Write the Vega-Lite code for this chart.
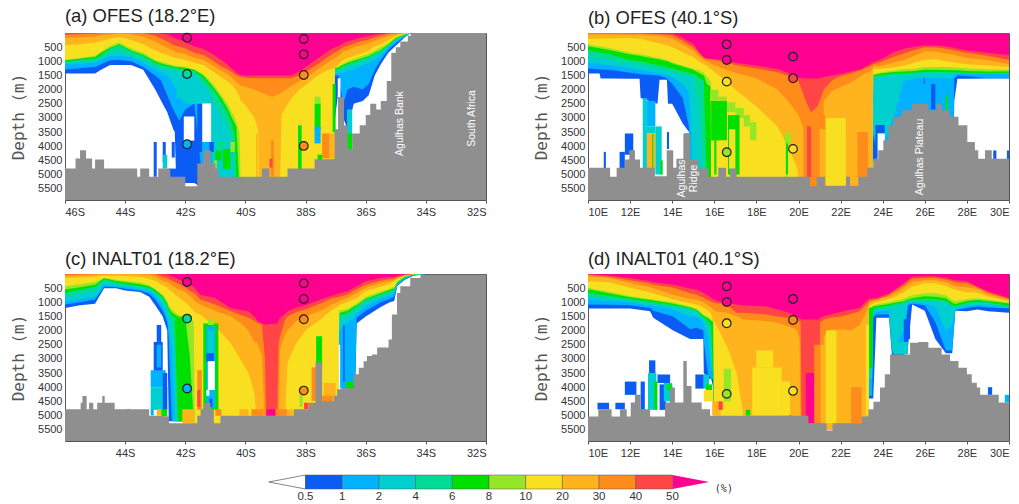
{"$schema":"https://vega.github.io/schema/vega-lite/v6.json","background":"white","padding":{"left":10,"top":6,"right":0,"bottom":0},
"config":{"legend":{"disable":true},"view":{"stroke":"#555","strokeWidth":1},"range":{"category":["#0a5cf5","#00b2ff","#00cfd0","#00dc96","#00e000","#96e628","#f8e020","#ffb31c","#ff8c1a","#ff4545","#ff0090","#ffffff"]},"axis":{"grid":false,"domain":false,"labelFont":"Liberation Sans","labelFontSize":11,"labelColor":"#333","tickColor":"#555","tickSize":3,"labelPadding":3,"labelOverlap":false,"titleFont":"DejaVu Sans Mono","titleFontSize":16,"titleFontWeight":"normal","titleColor":"#555","titlePadding":11},"title":{"font":"Liberation Sans","fontSize":18.4,"fontWeight":"normal","color":"#222","anchor":"start","frame":"group","offset":6}},
"datasets":{
"ca":[
{"x":-46,"A":1430,"B":1290,"C":1100,"D":1050,"E":1000,"F":960,"G":950,"H":430,"I":180,"J":60,"K":0},
{"x":-45,"A":1430,"B":1200,"C":1050,"D":1000,"E":900,"F":850,"G":800,"H":350,"I":120,"J":30,"K":0},
{"x":-44.8,"A":1300,"B":1100,"C":950,"D":880,"E":800,"F":700,"G":650,"H":280,"I":80,"J":0,"K":0},
{"x":-44.5,"A":1130,"B":960,"C":820,"D":700,"E":550,"F":520,"G":450,"H":200,"I":50,"J":0,"K":0},
{"x":-44.2,"A":1130,"B":950,"C":800,"D":650,"E":430,"F":400,"G":330,"H":130,"I":20,"J":0,"K":0},
{"x":-43.8,"A":1130,"B":1000,"C":850,"D":800,"E":650,"F":620,"G":550,"H":250,"I":40,"J":0,"K":0},
{"x":-43.4,"A":1300,"B":1200,"C":1050,"D":950,"E":800,"F":770,"G":700,"H":400,"I":130,"J":0,"K":0},
{"x":-43,"A":2000,"B":1500,"C":1300,"D":1200,"E":1050,"F":1000,"G":950,"H":620,"I":300,"J":100,"K":0},
{"x":-42.8,"A":2400,"B":1700,"C":1400,"D":1250,"E":1120,"F":1080,"G":1020,"H":700,"I":420,"J":200,"K":20},
{"x":-42.6,"A":2800,"B":2200,"C":1500,"D":1280,"E":1180,"F":1130,"G":1080,"H":770,"I":520,"J":300,"K":50},
{"x":-42.4,"A":3400,"B":2700,"C":1800,"D":1300,"E":1220,"F":1180,"G":1130,"H":860,"I":620,"J":420,"K":140},
{"x":-42.35,"A":3500,"B":2800,"C":1900,"D":1320,"E":1240,"F":1190,"G":1150,"H":880,"I":650,"J":440,"K":180},
{"x":-42.3,"A":5300,"B":2900,"C":2000,"D":1330,"E":1250,"F":1200,"G":1160,"H":890,"I":680,"J":460,"K":210},
{"x":-42.2,"A":5300,"B":3100,"C":2200,"D":1340,"E":1260,"F":1210,"G":1170,"H":900,"I":700,"J":480,"K":230},
{"x":-42,"A":5300,"B":2700,"C":2500,"D":1350,"E":1280,"F":1230,"G":1200,"H":950,"I":750,"J":550,"K":320},
{"x":-41.7,"A":5300,"B":2500,"C":2500,"D":1450,"E":1350,"F":1300,"G":1280,"H":1050,"I":870,"J":700,"K":480},
{"x":-41.4,"A":5500,"B":5500,"C":2600,"D":1800,"E":1600,"F":1500,"G":1450,"H":1130,"I":950,"J":780,"K":560},
{"x":-41.2,"A":5500,"B":5500,"C":3000,"D":2100,"E":1850,"F":1750,"G":1650,"H":1270,"I":1070,"J":900,"K":680},
{"x":-41.05,"A":5500,"B":5500,"C":5500,"D":2400,"E":2030,"F":1930,"G":1830,"H":1380,"I":1170,"J":1000,"K":770},
{"x":-40.8,"A":5500,"B":5500,"C":5500,"D":2900,"E":2450,"F":2300,"G":2200,"H":1570,"I":1330,"J":1180,"K":950},
{"x":-40.6,"A":5500,"B":5500,"C":5500,"D":3300,"E":2800,"F":2650,"G":2500,"H":1700,"I":1450,"J":1280,"K":1100},
{"x":-40.45,"A":5500,"B":5500,"C":5500,"D":3800,"E":3200,"F":3000,"G":2800,"H":1850,"I":1580,"J":1380,"K":1250},
{"x":-40.35,"A":5500,"B":5500,"C":5500,"D":5500,"E":3700,"F":3200,"G":3000,"H":1980,"I":1680,"J":1460,"K":1350},
{"x":-40.3,"A":5500,"B":5500,"C":5500,"D":5500,"E":5500,"F":3300,"G":3150,"H":2050,"I":1730,"J":1500,"K":1400},
{"x":-40.2,"A":5500,"B":5500,"C":5500,"D":5500,"E":5500,"F":5500,"G":3500,"H":2250,"I":1820,"J":1530,"K":1470},
{"x":-40.15,"A":5500,"B":5500,"C":5500,"D":5500,"E":5500,"F":5500,"G":5500,"H":2400,"I":1860,"J":1550,"K":1480},
{"x":-40,"A":5500,"B":5500,"C":5500,"D":5500,"E":5500,"F":5500,"G":5500,"H":2550,"I":1900,"J":1580,"K":1500},
{"x":-39.7,"A":5500,"B":5500,"C":5500,"D":5500,"E":5500,"F":5500,"G":5500,"H":3000,"I":2000,"J":1600,"K":1500},
{"x":-39.58,"A":5500,"B":5500,"C":5500,"D":5500,"E":5500,"F":5500,"G":5500,"H":3400,"I":2060,"J":1600,"K":1500},
{"x":-39.55,"A":5500,"B":5500,"C":5500,"D":5500,"E":5500,"F":5500,"G":5500,"H":5500,"I":2080,"J":1600,"K":1500},
{"x":-39.1,"A":5500,"B":5500,"C":5500,"D":5500,"E":5500,"F":5500,"G":5500,"H":5500,"I":2250,"J":1600,"K":1500},
{"x":-38.85,"A":5500,"B":5500,"C":5500,"D":5500,"E":5500,"F":5500,"G":5500,"H":5500,"I":2150,"J":1600,"K":1500},
{"x":-38.8,"A":5500,"B":5500,"C":5500,"D":5500,"E":5500,"F":5500,"G":5500,"H":2900,"I":2100,"J":1600,"K":1500},
{"x":-38.5,"A":5500,"B":5500,"C":5500,"D":5500,"E":5500,"F":5500,"G":5500,"H":2350,"I":1900,"J":1600,"K":1500},
{"x":-38.2,"A":5500,"B":5500,"C":5500,"D":5500,"E":5500,"F":5500,"G":5500,"H":2000,"I":1700,"J":1500,"K":1350},
{"x":-38,"A":5500,"B":5500,"C":5500,"D":5500,"E":5500,"F":5500,"G":5500,"H":1850,"I":1580,"J":1380,"K":1200},
{"x":-37.6,"A":5500,"B":5500,"C":5500,"D":5500,"E":5500,"F":5500,"G":5500,"H":1500,"I":1300,"J":1100,"K":900},
{"x":-37.2,"A":5500,"B":5500,"C":5500,"D":5500,"E":5500,"F":5500,"G":5500,"H":1280,"I":1000,"J":800,"K":600},
{"x":-37.05,"A":5500,"B":5500,"C":5500,"D":5500,"E":5500,"F":5500,"G":5500,"H":1250,"I":900,"J":700,"K":520},
{"x":-37.02,"A":3000,"B":1500,"C":1450,"D":1350,"E":1300,"F":1250,"G":1200,"H":1200,"I":880,"J":680,"K":500},
{"x":-36.9,"A":2000,"B":1500,"C":1430,"D":1320,"E":1270,"F":1220,"G":1170,"H":1100,"I":800,"J":620,"K":450},
{"x":-36.75,"A":3000,"B":2500,"C":1400,"D":1250,"E":1180,"F":1120,"G":1080,"H":950,"I":650,"J":500,"K":350},
{"x":-36.6,"A":3400,"B":2000,"C":1350,"D":1200,"E":1100,"F":1050,"G":1000,"H":880,"I":600,"J":450,"K":300},
{"x":-36.4,"A":2500,"B":1900,"C":1280,"D":1120,"E":1030,"F":980,"G":920,"H":800,"I":500,"J":370,"K":230},
{"x":-36.1,"A":2400,"B":2000,"C":1150,"D":1000,"E":920,"F":880,"G":800,"H":700,"I":420,"J":280,"K":150},
{"x":-35.9,"A":2200,"B":1800,"C":1050,"D":920,"E":850,"F":810,"G":730,"H":620,"I":360,"J":230,"K":100},
{"x":-35.7,"A":1500,"B":1300,"C":950,"D":800,"E":730,"F":700,"G":620,"H":480,"I":280,"J":150,"K":60},
{"x":-35.5,"A":1100,"B":950,"C":800,"D":700,"E":630,"F":600,"G":500,"H":400,"I":200,"J":100,"K":30},
{"x":-35.25,"A":700,"B":600,"C":520,"D":480,"E":440,"F":410,"G":350,"H":260,"I":100,"J":30,"K":0},
{"x":-35,"A":450,"B":350,"C":300,"D":250,"E":200,"F":180,"G":150,"H":100,"I":50,"J":0,"K":0},
{"x":-34.7,"A":150,"B":120,"C":100,"D":80,"E":60,"F":50,"G":30,"H":0,"I":0,"J":0,"K":0},
{"x":-34.5,"A":0,"B":0,"C":0,"D":0,"E":0,"F":0,"G":0,"H":0,"I":0,"J":0,"K":0}],
"cb":[
{"x":10,"A":1430,"B":1250,"C":1050,"D":850,"E":600,"F":470,"G":400,"H":200,"I":60,"J":0,"K":0},
{"x":10.55,"A":1430,"B":1280,"C":1090,"D":900,"E":680,"F":540,"G":470,"H":195,"I":55,"J":5,"K":0},
{"x":10.6,"A":1610,"B":1290,"C":1100,"D":910,"E":690,"F":550,"G":480,"H":195,"I":55,"J":5,"K":0},
{"x":11,"A":1610,"B":1300,"C":1130,"D":950,"E":750,"F":600,"G":530,"H":190,"I":50,"J":10,"K":0},
{"x":12,"A":1620,"B":1400,"C":1250,"D":1100,"E":950,"F":760,"G":700,"H":180,"I":60,"J":20,"K":0},
{"x":12.45,"A":1620,"B":1450,"C":1300,"D":1150,"E":1000,"F":800,"G":740,"H":200,"I":60,"J":20,"K":0},
{"x":12.5,"A":2300,"B":1460,"C":1310,"D":1160,"E":1010,"F":810,"G":750,"H":205,"I":62,"J":20,"K":0},
{"x":13.3,"A":2500,"B":1500,"C":1420,"D":1280,"E":1130,"F":930,"G":870,"H":350,"I":100,"J":40,"K":10},
{"x":13.4,"A":1650,"B":1510,"C":1430,"D":1290,"E":1140,"F":940,"G":880,"H":360,"I":110,"J":45,"K":15},
{"x":13.75,"A":1650,"B":1600,"C":1480,"D":1360,"E":1200,"F":1000,"G":950,"H":430,"I":150,"J":65,"K":20},
{"x":13.8,"A":2500,"B":1650,"C":1490,"D":1370,"E":1210,"F":1010,"G":960,"H":440,"I":160,"J":70,"K":20},
{"x":14,"A":2500,"B":1790,"C":1550,"D":1380,"E":1260,"F":1080,"G":1030,"H":500,"I":200,"J":80,"K":20},
{"x":14.5,"A":3200,"B":2300,"C":1800,"D":1480,"E":1350,"F":1180,"G":1150,"H":680,"I":400,"J":270,"K":150},
{"x":14.8,"A":3500,"B":3300,"C":2100,"D":1550,"E":1410,"F":1250,"G":1220,"H":790,"I":550,"J":420,"K":320},
{"x":14.85,"A":5500,"B":5500,"C":2800,"D":1560,"E":1420,"F":1260,"G":1230,"H":800,"I":560,"J":430,"K":330},
{"x":15,"A":5500,"B":5500,"C":5500,"D":1600,"E":1450,"F":1300,"G":1260,"H":850,"I":620,"J":500,"K":380},
{"x":15.25,"A":5500,"B":5500,"C":5500,"D":2500,"E":1560,"F":1400,"G":1320,"H":1000,"I":800,"J":700,"K":650},
{"x":15.5,"A":5500,"B":5500,"C":5500,"D":5500,"E":1700,"F":1500,"G":1400,"H":1100,"I":950,"J":880,"K":850},
{"x":15.65,"A":5500,"B":5500,"C":5500,"D":5500,"E":5500,"F":1800,"G":1550,"H":1170,"I":1000,"J":930,"K":900},
{"x":15.83,"A":5500,"B":5500,"C":5500,"D":5500,"E":5500,"F":1900,"G":1700,"H":1270,"I":1080,"J":940,"K":910},
{"x":15.85,"A":5500,"B":5500,"C":5500,"D":5500,"E":5500,"F":5500,"G":5500,"H":1280,"I":1090,"J":940,"K":910},
{"x":16.5,"A":5500,"B":5500,"C":5500,"D":5500,"E":5500,"F":5500,"G":5500,"H":1650,"I":1280,"J":1020,"K":960},
{"x":17,"A":5500,"B":5500,"C":5500,"D":5500,"E":5500,"F":5500,"G":5500,"H":2000,"I":1400,"J":1130,"K":1050},
{"x":18,"A":5500,"B":5500,"C":5500,"D":5500,"E":5500,"F":5500,"G":5500,"H":2600,"I":1600,"J":1250,"K":1150},
{"x":19,"A":5500,"B":5500,"C":5500,"D":5500,"E":5500,"F":5500,"G":5500,"H":3300,"I":2000,"J":1390,"K":1270},
{"x":19.5,"A":5500,"B":5500,"C":5500,"D":5500,"E":5500,"F":5500,"G":5500,"H":4000,"I":2400,"J":1500,"K":1400},
{"x":19.95,"A":5500,"B":5500,"C":5500,"D":5500,"E":5500,"F":5500,"G":5500,"H":4800,"I":2850,"J":1680,"K":1570},
{"x":20,"A":5500,"B":5500,"C":5500,"D":5500,"E":5500,"F":5500,"G":5500,"H":5500,"I":2900,"J":1700,"K":1580},
{"x":20.3,"A":5500,"B":5500,"C":5500,"D":5500,"E":5500,"F":5500,"G":5500,"H":5500,"I":3500,"J":2300,"K":1600},
{"x":20.4,"A":5500,"B":5500,"C":5500,"D":5500,"E":5500,"F":5500,"G":5500,"H":5500,"I":5500,"J":2500,"K":1610},
{"x":20.6,"A":5500,"B":5500,"C":5500,"D":5500,"E":5500,"F":5500,"G":5500,"H":5500,"I":5500,"J":2800,"K":1610},
{"x":20.9,"A":5500,"B":5500,"C":5500,"D":5500,"E":5500,"F":5500,"G":5500,"H":5500,"I":5500,"J":2600,"K":1610},
{"x":21.15,"A":5500,"B":5500,"C":5500,"D":5500,"E":5500,"F":5500,"G":5500,"H":5500,"I":5500,"J":2100,"K":1570},
{"x":21.2,"A":5500,"B":5500,"C":5500,"D":5500,"E":5500,"F":5500,"G":5500,"H":5500,"I":2400,"J":2000,"K":1550},
{"x":21.6,"A":5500,"B":5500,"C":5500,"D":5500,"E":5500,"F":5500,"G":5500,"H":5500,"I":2050,"J":1670,"K":1500},
{"x":22,"A":5500,"B":5500,"C":5500,"D":5500,"E":5500,"F":5500,"G":5500,"H":5500,"I":1900,"J":1520,"K":1450},
{"x":22.5,"A":5500,"B":5500,"C":5500,"D":5500,"E":5500,"F":5500,"G":5500,"H":5500,"I":1750,"J":1420,"K":1360},
{"x":23,"A":5500,"B":5500,"C":5500,"D":5500,"E":5500,"F":5500,"G":5500,"H":5500,"I":1500,"J":1300,"K":1270},
{"x":23.5,"A":5500,"B":5500,"C":5500,"D":5500,"E":5500,"F":5500,"G":5500,"H":5500,"I":1300,"J":1130,"K":1050},
{"x":23.55,"A":4500,"B":3600,"C":3500,"D":1600,"E":1530,"F":1480,"G":1450,"H":1270,"I":1180,"J":1100,"K":1030},
{"x":24,"A":5000,"B":5000,"C":4000,"D":1560,"E":1480,"F":1420,"G":1380,"H":1260,"I":1150,"J":1000,"K":900},
{"x":24.5,"A":5000,"B":5000,"C":3000,"D":1500,"E":1440,"F":1380,"G":1330,"H":1220,"I":1050,"J":850,"K":680},
{"x":25,"A":5000,"B":5000,"C":1700,"D":1480,"E":1420,"F":1360,"G":1280,"H":1150,"I":950,"J":720,"K":560},
{"x":25.5,"A":5000,"B":5000,"C":1600,"D":1450,"E":1400,"F":1340,"G":1260,"H":1050,"I":800,"J":600,"K":490},
{"x":26,"A":5000,"B":5000,"C":1580,"D":1440,"E":1380,"F":1300,"G":1200,"H":950,"I":650,"J":500,"K":430},
{"x":26.5,"A":5000,"B":5000,"C":1600,"D":1440,"E":1380,"F":1300,"G":1200,"H":930,"I":650,"J":500,"K":440},
{"x":27,"A":5000,"B":5000,"C":1600,"D":1450,"E":1380,"F":1310,"G":1200,"H":1000,"I":720,"J":560,"K":470},
{"x":27.35,"A":5000,"B":5000,"C":1600,"D":1450,"E":1390,"F":1320,"G":1210,"H":1030,"I":760,"J":600,"K":510},
{"x":27.4,"A":2400,"B":1620,"C":1500,"D":1450,"E":1390,"F":1320,"G":1220,"H":1040,"I":770,"J":610,"K":520},
{"x":27.55,"A":1620,"B":1500,"C":1450,"D":1420,"E":1390,"F":1320,"G":1220,"H":1060,"I":800,"J":640,"K":550},
{"x":28,"A":1620,"B":1520,"C":1450,"D":1430,"E":1400,"F":1340,"G":1250,"H":1100,"I":880,"J":700,"K":620},
{"x":29,"A":1610,"B":1600,"C":1450,"D":1440,"E":1420,"F":1360,"G":1280,"H":1150,"I":960,"J":800,"K":700},
{"x":30,"A":1610,"B":1600,"C":1440,"D":1420,"E":1400,"F":1350,"G":1290,"H":1200,"I":1100,"J":950,"K":790}],
"cc":[
{"x":-46,"A":1200,"B":1080,"C":960,"D":790,"E":670,"F":550,"G":430,"H":140,"I":60,"J":20,"K":0},
{"x":-45.5,"A":1100,"B":1000,"C":880,"D":700,"E":560,"F":470,"G":360,"H":120,"I":40,"J":10,"K":0},
{"x":-45,"A":1050,"B":900,"C":800,"D":600,"E":450,"F":380,"G":280,"H":90,"I":30,"J":0,"K":0},
{"x":-44.7,"A":500,"B":450,"C":380,"D":260,"E":190,"F":150,"G":130,"H":50,"I":10,"J":0,"K":0},
{"x":-44.3,"A":500,"B":470,"C":430,"D":360,"E":300,"F":250,"G":200,"H":60,"I":10,"J":0,"K":0},
{"x":-44,"A":580,"B":520,"C":470,"D":410,"E":350,"F":290,"G":240,"H":70,"I":10,"J":0,"K":0},
{"x":-43.5,"A":640,"B":590,"C":540,"D":480,"E":420,"F":360,"G":300,"H":100,"I":10,"J":0,"K":0},
{"x":-43.2,"A":800,"B":700,"C":620,"D":560,"E":490,"F":430,"G":400,"H":170,"I":30,"J":0,"K":0},
{"x":-43,"A":1100,"B":900,"C":750,"D":700,"E":620,"F":560,"G":530,"H":250,"I":80,"J":0,"K":0},
{"x":-42.75,"A":1500,"B":1300,"C":1150,"D":1000,"E":830,"F":780,"G":730,"H":400,"I":250,"J":100,"K":0},
{"x":-42.6,"A":2000,"B":1700,"C":1550,"D":1300,"E":1100,"F":1030,"G":950,"H":470,"I":280,"J":130,"K":20},
{"x":-42.55,"A":5200,"B":2300,"C":1900,"D":1500,"E":1300,"F":1200,"G":1100,"H":550,"I":320,"J":180,"K":40},
{"x":-42.45,"A":5200,"B":5200,"C":2600,"D":1700,"E":1450,"F":1350,"G":1250,"H":620,"I":400,"J":240,"K":80},
{"x":-42.35,"A":5200,"B":5200,"C":5200,"D":2400,"E":1550,"F":1430,"G":1350,"H":720,"I":460,"J":280,"K":120},
{"x":-42.25,"A":5200,"B":5200,"C":5200,"D":5200,"E":5200,"F":1500,"G":1430,"H":800,"I":540,"J":340,"K":180},
{"x":-42,"A":5200,"B":5200,"C":5200,"D":5200,"E":5200,"F":1550,"G":1500,"H":1000,"I":640,"J":480,"K":300},
{"x":-41.85,"A":5200,"B":5200,"C":5200,"D":5200,"E":5200,"F":2900,"G":1620,"H":1150,"I":780,"J":590,"K":380},
{"x":-41.72,"A":5200,"B":5200,"C":5200,"D":5200,"E":5200,"F":5200,"G":1650,"H":1300,"I":900,"J":670,"K":460},
{"x":-41.68,"A":5500,"B":5500,"C":5500,"D":5500,"E":5500,"F":5500,"G":5500,"H":1350,"I":950,"J":700,"K":500},
{"x":-41.5,"A":5500,"B":5500,"C":5500,"D":5500,"E":5500,"F":5500,"G":5500,"H":1430,"I":1080,"J":900,"K":730},
{"x":-41,"A":5500,"B":5500,"C":5500,"D":5500,"E":5500,"F":5500,"G":5500,"H":1860,"I":1310,"J":1080,"K":850},
{"x":-40.5,"A":5500,"B":5500,"C":5500,"D":5500,"E":5500,"F":5500,"G":5500,"H":2430,"I":1490,"J":1310,"K":1200},
{"x":-40.2,"A":5500,"B":5500,"C":5500,"D":5500,"E":5500,"F":5500,"G":5500,"H":2960,"I":1700,"J":1430,"K":1260},
{"x":-39.9,"A":5500,"B":5500,"C":5500,"D":5500,"E":5500,"F":5500,"G":5500,"H":3500,"I":2000,"J":1550,"K":1320},
{"x":-39.7,"A":5500,"B":5500,"C":5500,"D":5500,"E":5500,"F":5500,"G":5500,"H":4200,"I":2400,"J":1650,"K":1500},
{"x":-39.6,"A":5500,"B":5500,"C":5500,"D":5500,"E":5500,"F":5500,"G":5500,"H":5500,"I":2430,"J":1730,"K":1650},
{"x":-39.45,"A":5500,"B":5500,"C":5500,"D":5500,"E":5500,"F":5500,"G":5500,"H":5500,"I":2900,"J":1785,"K":1750},
{"x":-39.35,"A":5500,"B":5500,"C":5500,"D":5500,"E":5500,"F":5500,"G":5500,"H":5500,"I":5500,"J":3000,"K":1785},
{"x":-39.3,"A":5500,"B":5500,"C":5500,"D":5500,"E":5500,"F":5500,"G":5500,"H":5500,"I":5500,"J":5500,"K":1785},
{"x":-38.95,"A":5500,"B":5500,"C":5500,"D":5500,"E":5500,"F":5500,"G":5500,"H":5500,"I":5500,"J":5500,"K":1750},
{"x":-38.9,"A":5500,"B":5500,"C":5500,"D":5500,"E":5500,"F":5500,"G":5500,"H":5500,"I":5500,"J":2500,"K":1650},
{"x":-38.85,"A":5500,"B":5500,"C":5500,"D":5500,"E":5500,"F":5500,"G":5500,"H":5500,"I":2660,"J":2200,"K":1550},
{"x":-38.7,"A":5500,"B":5500,"C":5500,"D":5500,"E":5500,"F":5500,"G":5500,"H":5500,"I":2200,"J":1670,"K":1430},
{"x":-38.6,"A":5500,"B":5500,"C":5500,"D":5500,"E":5500,"F":5500,"G":5500,"H":3130,"I":2000,"J":1500,"K":1320},
{"x":-38.3,"A":5500,"B":5500,"C":5500,"D":5500,"E":5500,"F":5500,"G":5500,"H":2430,"I":1650,"J":1340,"K":1180},
{"x":-38,"A":5500,"B":5500,"C":5500,"D":5500,"E":5500,"F":5500,"G":5500,"H":2000,"I":1500,"J":1250,"K":1100},
{"x":-37.5,"A":5500,"B":5500,"C":5500,"D":5500,"E":5500,"F":5500,"G":5500,"H":1600,"I":1300,"J":1040,"K":900},
{"x":-37.1,"A":5500,"B":5500,"C":5500,"D":5500,"E":5500,"F":5500,"G":5500,"H":1250,"I":1050,"J":850,"K":760},
{"x":-36.92,"A":5500,"B":5500,"C":5500,"D":5500,"E":5500,"F":5500,"G":5500,"H":1150,"I":1000,"J":820,"K":700},
{"x":-36.88,"A":4000,"B":4000,"C":2000,"D":1600,"E":1450,"F":1380,"G":1300,"H":1100,"I":950,"J":800,"K":680},
{"x":-36.6,"A":4100,"B":4100,"C":1700,"D":1500,"E":1380,"F":1300,"G":1230,"H":980,"I":850,"J":720,"K":610},
{"x":-36.35,"A":4100,"B":4000,"C":1500,"D":1300,"E":1180,"F":1120,"G":1060,"H":870,"I":700,"J":560,"K":450},
{"x":-36.3,"A":1750,"B":1550,"C":1400,"D":1260,"E":1150,"F":1100,"G":1040,"H":850,"I":680,"J":540,"K":430},
{"x":-36,"A":1500,"B":1300,"C":1130,"D":1000,"E":900,"F":870,"G":800,"H":610,"I":490,"J":380,"K":260},
{"x":-35.5,"A":1170,"B":1000,"C":880,"D":800,"E":720,"F":680,"G":620,"H":440,"I":320,"J":240,"K":140},
{"x":-35.2,"A":1000,"B":880,"C":760,"D":680,"E":610,"F":560,"G":520,"H":350,"I":260,"J":180,"K":110},
{"x":-35.05,"A":950,"B":800,"C":680,"D":600,"E":540,"F":500,"G":450,"H":260,"I":200,"J":140,"K":90},
{"x":-34.95,"A":420,"B":400,"C":370,"D":340,"E":300,"F":280,"G":260,"H":180,"I":150,"J":100,"K":70},
{"x":-34.7,"A":200,"B":180,"C":160,"D":140,"E":120,"F":100,"G":80,"H":60,"I":40,"J":25,"K":15},
{"x":-34.4,"A":60,"B":50,"C":40,"D":30,"E":20,"F":10,"G":5,"H":0,"I":0,"J":0,"K":0},
{"x":-34,"A":0,"B":0,"C":0,"D":0,"E":0,"F":0,"G":0,"H":0,"I":0,"J":0,"K":0}],
"cd":[
{"x":10,"A":1220,"B":1080,"C":900,"D":790,"E":670,"F":540,"G":490,"H":260,"I":80,"J":25,"K":0},
{"x":11,"A":1220,"B":1090,"C":950,"D":870,"E":770,"F":680,"G":630,"H":290,"I":130,"J":100,"K":50},
{"x":12,"A":1220,"B":1100,"C":1000,"D":950,"E":880,"F":820,"G":780,"H":490,"I":320,"J":220,"K":140},
{"x":12.95,"A":1320,"B":1200,"C":1100,"D":1040,"E":980,"F":920,"G":880,"H":650,"I":470,"J":340,"K":260},
{"x":13.1,"A":1550,"B":1300,"C":1120,"D":1060,"E":1000,"F":940,"G":900,"H":680,"I":500,"J":370,"K":290},
{"x":14.05,"A":2000,"B":1500,"C":1260,"D":1150,"E":1100,"F":1050,"G":1000,"H":900,"I":730,"J":490,"K":375},
{"x":14.85,"A":2300,"B":1950,"C":1500,"D":1280,"E":1210,"F":1180,"G":1150,"H":1030,"I":880,"J":680,"K":510},
{"x":15.16,"A":2300,"B":1900,"C":1500,"D":1350,"E":1300,"F":1260,"G":1230,"H":1080,"I":900,"J":730,"K":550},
{"x":15.48,"A":2300,"B":2000,"C":1700,"D":1600,"E":1520,"F":1470,"G":1430,"H":1180,"I":1000,"J":840,"K":670},
{"x":15.5,"A":3500,"B":2400,"C":1800,"D":1650,"E":1550,"F":1480,"G":1430,"H":1190,"I":1000,"J":850,"K":680},
{"x":15.7,"A":3700,"B":3500,"C":2200,"D":1850,"E":1650,"F":1560,"G":1500,"H":1280,"I":1100,"J":930,"K":750},
{"x":15.85,"A":3700,"B":3700,"C":3300,"D":2400,"E":1800,"F":1650,"G":1600,"H":1400,"I":1180,"J":980,"K":840},
{"x":15.95,"A":4000,"B":3700,"C":3500,"D":3500,"E":4000,"F":1700,"G":1650,"H":1650,"I":1240,"J":1010,"K":890},
{"x":16,"A":5500,"B":5500,"C":5500,"D":5500,"E":5500,"F":5500,"G":5500,"H":1690,"I":1290,"J":1020,"K":900},
{"x":16.2,"A":5500,"B":5500,"C":5500,"D":5500,"E":5500,"F":5500,"G":5500,"H":1960,"I":1330,"J":1040,"K":970},
{"x":16.6,"A":5500,"B":5500,"C":5500,"D":5500,"E":5500,"F":5500,"G":5500,"H":2550,"I":1370,"J":1080,"K":1020},
{"x":17.06,"A":5500,"B":5500,"C":5500,"D":5500,"E":5500,"F":5500,"G":5500,"H":3490,"I":1490,"J":1370,"K":1080},
{"x":17.35,"A":5500,"B":5500,"C":5500,"D":5500,"E":5500,"F":5500,"G":5500,"H":4800,"I":1600,"J":1370,"K":1100},
{"x":17.4,"A":5500,"B":5500,"C":5500,"D":5500,"E":5500,"F":5500,"G":5500,"H":5500,"I":1610,"J":1370,"K":1100},
{"x":18.5,"A":5500,"B":5500,"C":5500,"D":5500,"E":5500,"F":5500,"G":5500,"H":5500,"I":1660,"J":1430,"K":1150},
{"x":19,"A":5500,"B":5500,"C":5500,"D":5500,"E":5500,"F":5500,"G":5500,"H":5500,"I":1725,"J":1500,"K":1255},
{"x":19.5,"A":5500,"B":5500,"C":5500,"D":5500,"E":5500,"F":5500,"G":5500,"H":5500,"I":1850,"J":1550,"K":1350},
{"x":19.9,"A":5500,"B":5500,"C":5500,"D":5500,"E":5500,"F":5500,"G":5500,"H":5500,"I":1960,"J":1610,"K":1500},
{"x":20.05,"A":5500,"B":5500,"C":5500,"D":5500,"E":5500,"F":5500,"G":5500,"H":5500,"I":2300,"J":1680,"K":1570},
{"x":20.1,"A":5500,"B":5500,"C":5500,"D":5500,"E":5500,"F":5500,"G":5500,"H":5500,"I":5500,"J":1700,"K":1580},
{"x":20.15,"A":5500,"B":5500,"C":5500,"D":5500,"E":5500,"F":5500,"G":5500,"H":5500,"I":5500,"J":5500,"K":1610},
{"x":21,"A":5500,"B":5500,"C":5500,"D":5500,"E":5500,"F":5500,"G":5500,"H":5500,"I":5500,"J":5500,"K":1610},
{"x":21.02,"A":5500,"B":5500,"C":5500,"D":5500,"E":5500,"F":5500,"G":5500,"H":5500,"I":5500,"J":1700,"K":1550},
{"x":21.15,"A":5500,"B":5500,"C":5500,"D":5500,"E":5500,"F":5500,"G":5500,"H":5500,"I":5500,"J":1650,"K":1500},
{"x":21.2,"A":5500,"B":5500,"C":5500,"D":5500,"E":5500,"F":5500,"G":5500,"H":5500,"I":2200,"J":1620,"K":1480},
{"x":21.5,"A":5500,"B":5500,"C":5500,"D":5500,"E":5500,"F":5500,"G":5500,"H":5500,"I":1960,"J":1550,"K":1430},
{"x":22.13,"A":5500,"B":5500,"C":5500,"D":5500,"E":5500,"F":5500,"G":5500,"H":5500,"I":1960,"J":1490,"K":1315},
{"x":22.5,"A":5500,"B":5500,"C":5500,"D":5500,"E":5500,"F":5500,"G":5500,"H":5500,"I":2000,"J":1400,"K":1250},
{"x":22.9,"A":5500,"B":5500,"C":5500,"D":5500,"E":5500,"F":5500,"G":5500,"H":5500,"I":1800,"J":1315,"K":1200},
{"x":23.3,"A":5500,"B":5500,"C":5500,"D":5500,"E":5500,"F":5500,"G":5500,"H":5500,"I":1200,"J":1020,"K":900},
{"x":23.35,"A":4400,"B":4300,"C":3700,"D":3500,"E":3300,"F":1200,"G":1180,"H":1100,"I":1000,"J":950,"K":870},
{"x":23.5,"A":4400,"B":4300,"C":3700,"D":3500,"E":3300,"F":1180,"G":1150,"H":1060,"I":980,"J":920,"K":860},
{"x":23.55,"A":4400,"B":1500,"C":1400,"D":1300,"E":1250,"F":1150,"G":1100,"H":1030,"I":950,"J":910,"K":850},
{"x":23.7,"A":1550,"B":1430,"C":1340,"D":1250,"E":1180,"F":1130,"G":1080,"H":1000,"I":920,"J":900,"K":845},
{"x":24.3,"A":1550,"B":1430,"C":1300,"D":1200,"E":1120,"F":1060,"G":1000,"H":880,"I":780,"J":740,"K":690},
{"x":24.45,"A":3000,"B":2800,"C":2700,"D":1170,"E":1090,"F":1030,"G":970,"H":850,"I":750,"J":660,"K":610},
{"x":25,"A":2900,"B":2400,"C":2000,"D":1070,"E":1000,"F":960,"G":880,"H":650,"I":500,"J":400,"K":330},
{"x":25.2,"A":2600,"B":1100,"C":1040,"D":1000,"E":940,"F":900,"G":800,"H":550,"I":380,"J":280,"K":200},
{"x":25.4,"A":1080,"B":1050,"C":1000,"D":950,"E":900,"F":860,"G":750,"H":450,"I":300,"J":170,"K":100},
{"x":26,"A":1300,"B":1100,"C":1030,"D":950,"E":870,"F":790,"G":680,"H":330,"I":220,"J":130,"K":80},
{"x":26.5,"A":2300,"B":1700,"C":1150,"D":950,"E":880,"F":800,"G":680,"H":330,"I":220,"J":130,"K":80},
{"x":27,"A":2800,"B":2700,"C":2000,"D":1000,"E":950,"F":860,"G":760,"H":420,"I":290,"J":190,"K":120},
{"x":27.3,"A":2800,"B":2700,"C":1800,"D":1150,"E":1100,"F":1020,"G":920,"H":520,"I":390,"J":260,"K":190},
{"x":27.45,"A":1300,"B":1280,"C":1240,"D":1200,"E":1130,"F":1060,"G":960,"H":560,"I":430,"J":300,"K":220},
{"x":28,"A":1320,"B":1200,"C":1150,"D":1080,"E":1020,"F":950,"G":880,"H":650,"I":480,"J":320,"K":260},
{"x":28.5,"A":1250,"B":1150,"C":1100,"D":1040,"E":980,"F":920,"G":860,"H":650,"I":530,"J":470,"K":450},
{"x":29,"A":1320,"B":1180,"C":1120,"D":1060,"E":1000,"F":950,"G":900,"H":800,"I":720,"J":650,"K":610},
{"x":30,"A":1370,"B":1220,"C":1200,"D":1160,"E":1120,"F":1040,"G":1010,"H":960,"I":920,"J":880,"K":845}],
"land":[
{"p":"a","x":-46,"d":4790},{"p":"a","x":-45.65,"d":4430},{"p":"a","x":-45.5,"d":4140},{"p":"a","x":-45.3,"d":4430},{"p":"a","x":-45.1,"d":4790},{"p":"a","x":-45,"d":4470},{"p":"a","x":-44.7,"d":4790},{"p":"a","x":-43.6,"d":5080},{"p":"a","x":-43.5,"d":4790},{"p":"a","x":-43.2,"d":5080},{"p":"a","x":-42.9,"d":4790},{"p":"a","x":-42.5,"d":5080},{"p":"a","x":-42,"d":5410},{"p":"a","x":-41.6,"d":4610},{"p":"a","x":-41.4,"d":4140},{"p":"a","x":-41.15,"d":4610},{"p":"a","x":-41,"d":4790},{"p":"a","x":-40.9,"d":5080},{"p":"a","x":-39.45,"d":4790},{"p":"a","x":-39.2,"d":5080},{"p":"a","x":-38.6,"d":4790},{"p":"a","x":-37.7,"d":4460},{"p":"a","x":-37.03,"d":3400},{"p":"a","x":-36.92,"d":2260},{"p":"a","x":-36.72,"d":3260},{"p":"a","x":-36.6,"d":4100},{"p":"a","x":-36.45,"d":3550},{"p":"a","x":-36.2,"d":3260},{"p":"a","x":-36,"d":2900},{"p":"a","x":-35.85,"d":2500},{"p":"a","x":-35.65,"d":2700},{"p":"a","x":-35.5,"d":2400},{"p":"a","x":-35.3,"d":1700},{"p":"a","x":-35.15,"d":700},{"p":"a","x":-35,"d":500},{"p":"a","x":-34.85,"d":300},{"p":"a","x":-34.6,"d":100},{"p":"a","x":-34.5,"d":0},{"p":"a","x":-32,"d":0},
{"p":"b","x":10,"d":4765},{"p":"b","x":11.05,"d":5080},{"p":"b","x":11.36,"d":4765},{"p":"b","x":11.76,"d":4470},{"p":"b","x":11.96,"d":4140},{"p":"b","x":12.23,"d":4470},{"p":"b","x":12.47,"d":4765},{"p":"b","x":13.18,"d":5060},{"p":"b","x":13.74,"d":4140},{"p":"b","x":14.05,"d":4765},{"p":"b","x":14.2,"d":4440},{"p":"b","x":14.53,"d":3550},{"p":"b","x":14.85,"d":4470},{"p":"b","x":15.24,"d":4790},{"p":"b","x":15.72,"d":5080},{"p":"b","x":16.19,"d":4765},{"p":"b","x":16.56,"d":5080},{"p":"b","x":16.75,"d":4790},{"p":"b","x":17.06,"d":5080},{"p":"b","x":20.55,"d":5410},{"p":"b","x":20.86,"d":5080},{"p":"b","x":21.26,"d":5400},{"p":"b","x":22.26,"d":5080},{"p":"b","x":22.45,"d":5400},{"p":"b","x":22.84,"d":5080},{"p":"b","x":23.27,"d":4765},{"p":"b","x":23.55,"d":4440},{"p":"b","x":23.79,"d":4140},{"p":"b","x":24.03,"d":3790},{"p":"b","x":24.27,"d":3260},{"p":"b","x":24.5,"d":2960},{"p":"b","x":24.9,"d":2730},{"p":"b","x":25.38,"d":2500},{"p":"b","x":26.17,"d":2730},{"p":"b","x":26.57,"d":2500},{"p":"b","x":26.8,"d":2730},{"p":"b","x":27.2,"d":2960},{"p":"b","x":27.6,"d":3260},{"p":"b","x":28.02,"d":3850},{"p":"b","x":28.38,"d":4140},{"p":"b","x":28.54,"d":4440},{"p":"b","x":28.86,"d":4140},{"p":"b","x":29.18,"d":4440},{"p":"b","x":30,"d":4440},
{"p":"c","x":-46,"d":4780},{"p":"c","x":-45.48,"d":4550},{"p":"c","x":-45.42,"d":4310},{"p":"c","x":-45.28,"d":4780},{"p":"c","x":-45.2,"d":4550},{"p":"c","x":-45.06,"d":4780},{"p":"c","x":-44.93,"d":4550},{"p":"c","x":-44.76,"d":4310},{"p":"c","x":-44.68,"d":4550},{"p":"c","x":-44.35,"d":4780},{"p":"c","x":-43.2,"d":5010},{"p":"c","x":-42.71,"d":5030},{"p":"c","x":-42.54,"d":5270},{"p":"c","x":-41.6,"d":5010},{"p":"c","x":-41.49,"d":4780},{"p":"c","x":-41.38,"d":4550},{"p":"c","x":-41.16,"d":4780},{"p":"c","x":-41.05,"d":5270},{"p":"c","x":-40.83,"d":5010},{"p":"c","x":-38.39,"d":4780},{"p":"c","x":-37.89,"d":4550},{"p":"c","x":-37.67,"d":3130},{"p":"c","x":-37.45,"d":4500},{"p":"c","x":-37.06,"d":4300},{"p":"c","x":-36.95,"d":4070},{"p":"c","x":-36.84,"d":4040},{"p":"c","x":-36.4,"d":3540},{"p":"c","x":-36.23,"d":3310},{"p":"c","x":-36.07,"d":3080},{"p":"c","x":-35.96,"d":2900},{"p":"c","x":-35.79,"d":2840},{"p":"c","x":-35.62,"d":2600},{"p":"c","x":-35.24,"d":2310},{"p":"c","x":-35.13,"d":1430},{"p":"c","x":-34.96,"d":670},{"p":"c","x":-34.85,"d":430},{"p":"c","x":-34.52,"d":140},{"p":"c","x":-34.18,"d":25},{"p":"c","x":-32,"d":25},
{"p":"d","x":10,"d":5035},{"p":"d","x":10.49,"d":4780},{"p":"d","x":11.12,"d":5035},{"p":"d","x":11.52,"d":4780},{"p":"d","x":11.84,"d":5035},{"p":"d","x":12.03,"d":4540},{"p":"d","x":12.23,"d":4270},{"p":"d","x":12.5,"d":4780},{"p":"d","x":12.95,"d":5035},{"p":"d","x":13.66,"d":4540},{"p":"d","x":13.9,"d":4010},{"p":"d","x":14.13,"d":4540},{"p":"d","x":14.53,"d":3075},{"p":"d","x":14.69,"d":3955},{"p":"d","x":14.92,"d":4540},{"p":"d","x":15.4,"d":4780},{"p":"d","x":15.8,"d":5010},{"p":"d","x":20.47,"d":5270},{"p":"d","x":21.34,"d":5530},{"p":"d","x":21.62,"d":5270},{"p":"d","x":23,"d":5035},{"p":"d","x":23.32,"d":4780},{"p":"d","x":23.56,"d":4510},{"p":"d","x":23.87,"d":4010},{"p":"d","x":24.1,"d":3545},{"p":"d","x":24.35,"d":2840},{"p":"d","x":25.3,"d":2430},{"p":"d","x":25.69,"d":2406},{"p":"d","x":26.17,"d":2606},{"p":"d","x":26.8,"d":2840},{"p":"d","x":27.2,"d":3075},{"p":"d","x":27.6,"d":3310},{"p":"d","x":28,"d":3545},{"p":"d","x":28.23,"d":3840},{"p":"d","x":28.47,"d":4010},{"p":"d","x":28.63,"d":4270},{"p":"d","x":29.5,"d":4540},{"p":"d","x":30,"d":4540}],
"rects":[
{"p":"a","k":"W","x":-42.05,"x2":-41.7,"d":2950,"d2":3800},{"p":"a","k":"W","x":-41.44,"x2":-41.14,"d":2490,"d2":3850},{"p":"a","k":"A","x":-41.6,"x2":-41.44,"d":2500,"d2":4200},{"p":"a","k":"A","x":-41.2,"x2":-41.05,"d":3850,"d2":4200},{"p":"a","k":"A","x":-43.05,"x2":-42.95,"d":3850,"d2":5080},{"p":"a","k":"A","x":-42.75,"x2":-42.65,"d":3850,"d2":4600},{"p":"a","k":"C","x":-42.75,"x2":-42.6,"d":4300,"d2":4790},{"p":"a","k":"A","x":-42.45,"x2":-42.35,"d":3850,"d2":4400},{"p":"a","k":"A","x":-42.55,"x2":-42.3,"d":4790,"d2":5400},{"p":"a","k":"C","x":-42.3,"x2":-42,"d":1600,"d2":2300},{"p":"a","k":"E","x":-41,"x2":-40.8,"d":4150,"d2":4500},{"p":"a","k":"F","x":-41.05,"x2":-40.95,"d":4500,"d2":5100},{"p":"a","k":"C","x":-40.8,"x2":-40.7,"d":4800,"d2":5100},{"p":"a","k":"D","x":-40.95,"x2":-40.65,"d":3850,"d2":4150},{"p":"a","k":"E","x":-40.75,"x2":-40.5,"d":4100,"d2":4800},{"p":"a","k":"F","x":-40.5,"x2":-40.35,"d":3850,"d2":4200},{"p":"a","k":"H","x":-39.65,"x2":-39.6,"d":3550,"d2":5090},{"p":"a","k":"I","x":-39.15,"x2":-39.05,"d":3800,"d2":5080},{"p":"a","k":"J","x":-39.2,"x2":-39.1,"d":4450,"d2":4750},{"p":"a","k":"E","x":-38.25,"x2":-38.13,"d":3260,"d2":5080},{"p":"a","k":"F","x":-37.7,"x2":-37.5,"d":2250,"d2":2500},{"p":"a","k":"E","x":-37.7,"x2":-37.5,"d":2500,"d2":3430},{"p":"a","k":"B","x":-37.7,"x2":-37.5,"d":3300,"d2":3900},{"p":"a","k":"E","x":-37.6,"x2":-37.45,"d":4300,"d2":4790},{"p":"a","k":"I","x":-37.45,"x2":-37.2,"d":3550,"d2":4430},{"p":"a","k":"H","x":-37.2,"x2":-37.03,"d":3550,"d2":4430},{"p":"a","k":"E","x":-37.1,"x2":-37,"d":1800,"d2":3500},{"p":"a","k":"W","x":-36.93,"x2":-36.84,"d":1600,"d2":2260},{"p":"a","k":"C","x":-36.62,"x2":-36.45,"d":2700,"d2":3900},{"p":"a","k":"E","x":-36.62,"x2":-36.45,"d":3550,"d2":4150},
{"p":"b","k":"C","x":12.6,"x2":12.8,"d":2300,"d2":4800},{"p":"b","k":"B","x":12.8,"x2":13.2,"d":2400,"d2":3300},{"p":"b","k":"C","x":12.8,"x2":13.2,"d":3300,"d2":3550},{"p":"b","k":"H","x":12.8,"x2":13.2,"d":3550,"d2":4800},{"p":"b","k":"E","x":13.05,"x2":13.1,"d":3550,"d2":4800},{"p":"b","k":"C","x":13.2,"x2":13.5,"d":3300,"d2":5000},{"p":"b","k":"E","x":13.45,"x2":13.55,"d":4500,"d2":5000},{"p":"b","k":"A","x":11.75,"x2":12.15,"d":3550,"d2":4300},{"p":"b","k":"A","x":10.75,"x2":10.85,"d":4200,"d2":4800},{"p":"b","k":"A","x":11.5,"x2":11.75,"d":4200,"d2":4800},{"p":"b","k":"A","x":13.75,"x2":13.85,"d":3500,"d2":4100},{"p":"b","k":"A","x":14.6,"x2":14.85,"d":3550,"d2":4000},
{"p":"b","k":"F","x":15.8,"x2":16.2,"d":2000,"d2":2400},{"p":"b","k":"F","x":16.2,"x2":16.6,"d":2250,"d2":2480},{"p":"b","k":"F","x":16.6,"x2":17,"d":2450,"d2":2800},{"p":"b","k":"F","x":17,"x2":17.4,"d":2650,"d2":3000},{"p":"b","k":"F","x":17.4,"x2":17.7,"d":2900,"d2":3300},{"p":"b","k":"F","x":17.7,"x2":18,"d":3150,"d2":3790},{"p":"b","k":"E","x":15.85,"x2":16.6,"d":2400,"d2":3800},{"p":"b","k":"E","x":16.65,"x2":17.2,"d":2900,"d2":5000},{"p":"b","k":"G","x":16.2,"x2":16.65,"d":3800,"d2":5000},{"p":"b","k":"E","x":16,"x2":16.1,"d":3800,"d2":5000},{"p":"b","k":"G","x":16.7,"x2":17,"d":3400,"d2":4800},{"p":"b","k":"F","x":19.35,"x2":19.65,"d":3550,"d2":3900},{"p":"b","k":"E","x":19.4,"x2":19.5,"d":3900,"d2":5000},{"p":"b","k":"F","x":19.4,"x2":19.5,"d":5000,"d2":5400},{"p":"b","k":"I","x":20.23,"x2":21.26,"d":2900,"d2":5400},{"p":"b","k":"J","x":20.4,"x2":20.6,"d":3300,"d2":5100},{"p":"b","k":"H","x":21,"x2":21.3,"d":3400,"d2":5400},{"p":"b","k":"G","x":21.3,"x2":22.25,"d":3000,"d2":5500},{"p":"b","k":"I","x":22.8,"x2":23.3,"d":3500,"d2":5100},{"p":"b","k":"A","x":23.65,"x2":24.1,"d":3250,"d2":3550},{"p":"b","k":"W","x":23.75,"x2":24.1,"d":3550,"d2":4800},{"p":"b","k":"A","x":23.65,"x2":23.75,"d":3550,"d2":4400},{"p":"b","k":"A","x":26.3,"x2":26.5,"d":1800,"d2":2700},{"p":"b","k":"A","x":25.95,"x2":26,"d":1600,"d2":1800},{"p":"b","k":"E","x":27,"x2":27.1,"d":2200,"d2":2800},{"p":"b","k":"A","x":29.25,"x2":29.4,"d":4150,"d2":4450},{"p":"b","k":"A","x":29.9,"x2":30,"d":4150,"d2":4450},
{"p":"c","k":"E","x":-41.4,"x2":-40.9,"d":1750,"d2":4800},{"p":"c","k":"F","x":-41.25,"x2":-41.05,"d":1600,"d2":1800},{"p":"c","k":"B","x":-41.3,"x2":-41,"d":1850,"d2":4700},{"p":"c","k":"C","x":-41.25,"x2":-41.05,"d":2000,"d2":2800},{"p":"c","k":"A","x":-41.3,"x2":-41.05,"d":2800,"d2":3100},{"p":"c","k":"W","x":-41.25,"x2":-41.02,"d":3080,"d2":4100},{"p":"c","k":"W","x":-41.3,"x2":-41.2,"d":4100,"d2":4300},{"p":"c","k":"A","x":-41.2,"x2":-41.1,"d":4400,"d2":4700},{"p":"c","k":"I","x":-41.6,"x2":-41.45,"d":3400,"d2":4800},{"p":"c","k":"J","x":-41.6,"x2":-41.5,"d":4100,"d2":4700},{"p":"c","k":"A","x":-42.95,"x2":-42.8,"d":1800,"d2":2400},{"p":"c","k":"A","x":-43.05,"x2":-42.75,"d":2400,"d2":3500},{"p":"c","k":"B","x":-42.95,"x2":-42.8,"d":2500,"d2":3300},{"p":"c","k":"B","x":-43.15,"x2":-42.65,"d":3400,"d2":4000},{"p":"c","k":"C","x":-43.15,"x2":-42.6,"d":4000,"d2":4800},{"p":"c","k":"A","x":-42.75,"x2":-42.6,"d":3500,"d2":4800},{"p":"c","k":"A","x":-43.95,"x2":-43.85,"d":4780,"d2":5000},{"p":"c","k":"B","x":-43.15,"x2":-43.05,"d":4780,"d2":5000},{"p":"c","k":"H","x":-42.95,"x2":-42.8,"d":4780,"d2":5000},{"p":"c","k":"E","x":-42.8,"x2":-42.6,"d":4780,"d2":5030},{"p":"c","k":"H","x":-42.7,"x2":-42.55,"d":5030,"d2":5270},{"p":"c","k":"H","x":-42.1,"x2":-41.7,"d":4780,"d2":5270},{"p":"c","k":"I","x":-41,"x2":-40.8,"d":4780,"d2":5010},{"p":"c","k":"H","x":-40.2,"x2":-39.9,"d":4780,"d2":5010},{"p":"c","k":"I","x":-39.8,"x2":-39.4,"d":4780,"d2":5010},{"p":"c","k":"K","x":-39.3,"x2":-39,"d":4780,"d2":5010},{"p":"c","k":"I","x":-39,"x2":-38.6,"d":4780,"d2":5010},{"p":"c","k":"H","x":-38.6,"x2":-38.4,"d":4780,"d2":5010},{"p":"c","k":"E","x":-37.65,"x2":-37.45,"d":2200,"d2":3350},{"p":"c","k":"W","x":-36.9,"x2":-36.85,"d":2500,"d2":4100},{"p":"c","k":"I","x":-37.8,"x2":-37.65,"d":3300,"d2":4480},{"p":"c","k":"F","x":-38.2,"x2":-38.1,"d":4200,"d2":4700},{"p":"c","k":"J","x":-38.05,"x2":-37.9,"d":4550,"d2":4780},{"p":"c","k":"H","x":-37.4,"x2":-37,"d":3850,"d2":4550},{"p":"c","k":"I","x":-37.45,"x2":-37.1,"d":4300,"d2":4550},{"p":"c","k":"A","x":-36.75,"x2":-36.7,"d":1800,"d2":3800},{"p":"c","k":"E","x":-36.65,"x2":-36.4,"d":3800,"d2":4100},
{"p":"d","k":"G","x":17.8,"x2":19.2,"d":3300,"d2":5000},{"p":"d","k":"G","x":18,"x2":18.8,"d":2700,"d2":3300},{"p":"d","k":"G","x":19.2,"x2":19.6,"d":3800,"d2":5000},{"p":"d","k":"A","x":10.45,"x2":11,"d":4550,"d2":4780},{"p":"d","k":"A","x":11.3,"x2":11.75,"d":4550,"d2":4780},{"p":"d","k":"A","x":11.75,"x2":12.3,"d":3800,"d2":4270},{"p":"d","k":"A","x":12.5,"x2":12.7,"d":3800,"d2":4800},{"p":"d","k":"C","x":12.85,"x2":13.25,"d":3500,"d2":4800},{"p":"d","k":"A","x":12.9,"x2":13.2,"d":3050,"d2":3500},{"p":"d","k":"E","x":13.15,"x2":13.3,"d":3800,"d2":4800},{"p":"d","k":"A","x":13.3,"x2":13.9,"d":3550,"d2":3850},{"p":"d","k":"A","x":13.4,"x2":13.7,"d":3900,"d2":4800},{"p":"d","k":"C","x":13.6,"x2":14,"d":3850,"d2":4500},{"p":"d","k":"E","x":13.75,"x2":14,"d":3900,"d2":4100},{"p":"d","k":"A","x":15.1,"x2":15.5,"d":3550,"d2":4050},{"p":"d","k":"C","x":15.5,"x2":15.75,"d":3550,"d2":4050},{"p":"d","k":"G","x":15.5,"x2":15.95,"d":4100,"d2":4500},{"p":"d","k":"E","x":15.6,"x2":15.9,"d":3900,"d2":4100},{"p":"d","k":"H","x":15.9,"x2":16.3,"d":4500,"d2":5000},{"p":"d","k":"J","x":16.2,"x2":16.4,"d":4500,"d2":4800},{"p":"d","k":"C","x":15.55,"x2":15.7,"d":4800,"d2":5000},{"p":"d","k":"E","x":17.5,"x2":17.7,"d":4800,"d2":5000},{"p":"d","k":"H","x":19.4,"x2":19.55,"d":5000,"d2":5270},{"p":"d","k":"A","x":19.55,"x2":19.65,"d":5000,"d2":5270},{"p":"d","k":"F","x":16.45,"x2":16.8,"d":3350,"d2":4500},{"p":"d","k":"K","x":20.35,"x2":20.75,"d":3500,"d2":5270},{"p":"d","k":"I","x":20.75,"x2":21.1,"d":2500,"d2":5270},{"p":"d","k":"H","x":21.05,"x2":21.35,"d":2500,"d2":5270},{"p":"d","k":"G","x":21.3,"x2":21.8,"d":2000,"d2":5270},{"p":"d","k":"I","x":22.5,"x2":23,"d":4000,"d2":5270},{"p":"d","k":"G","x":23.2,"x2":23.35,"d":1800,"d2":5000},{"p":"d","k":"A","x":25,"x2":25.3,"d":1600,"d2":2300},{"p":"d","k":"C","x":24.5,"x2":25.2,"d":2400,"d2":2840},{"p":"d","k":"E","x":29.4,"x2":29.5,"d":4270,"d2":4540},{"p":"d","k":"B","x":29.8,"x2":30,"d":4270,"d2":4540},{"p":"d","k":"A","x":29,"x2":29.2,"d":4000,"d2":4270}],
"circles":[
{"p":"a","x":-41.94,"d":165,"k":"K"},{"p":"a","x":-41.94,"d":1447,"k":"D"},{"p":"a","x":-41.94,"d":3930,"k":"B"},{"p":"a","x":-38.06,"d":212,"k":"K"},{"p":"a","x":-38.06,"d":753,"k":"K"},{"p":"a","x":-38.06,"d":1482,"k":"I"},{"p":"a","x":-38.06,"d":3990,"k":"I"},
{"p":"b","x":16.59,"d":400,"k":"K"},{"p":"b","x":16.59,"d":953,"k":"K"},{"p":"b","x":16.59,"d":1718,"k":"G"},{"p":"b","x":16.59,"d":4212,"k":"F"},{"p":"b","x":19.74,"d":835,"k":"K"},{"p":"b","x":19.74,"d":1600,"k":"J"},{"p":"b","x":19.74,"d":4094,"k":"G"},
{"p":"c","x":-41.94,"d":282,"k":"K"},{"p":"c","x":-41.94,"d":1576,"k":"D"},{"p":"c","x":-41.94,"d":4047,"k":"B"},{"p":"c","x":-38.06,"d":329,"k":"K"},{"p":"c","x":-38.06,"d":882,"k":"K"},{"p":"c","x":-38.06,"d":1600,"k":"I"},{"p":"c","x":-38.06,"d":4118,"k":"I"},
{"p":"d","x":16.59,"d":435,"k":"K"},{"p":"d","x":16.59,"d":988,"k":"K"},{"p":"d","x":16.59,"d":1741,"k":"G"},{"p":"d","x":16.59,"d":4235,"k":"F"},{"p":"d","x":19.74,"d":882,"k":"K"},{"p":"d","x":19.74,"d":1624,"k":"I"},{"p":"d","x":19.74,"d":4130,"k":"G"}],
"notes":[
{"p":"a","x":-34.85,"d":3200,"t":"Agulhas Bank"},{"p":"a","x":-32.45,"d":3020,"t":"South Africa"},{"p":"b","x":14.45,"d":5140,"t":"Agulhas"},{"p":"b","x":15.04,"d":5140,"t":"Ridge"},{"p":"b","x":25.77,"d":4380,"t":"Agulhas Plateau"}],
"bar":[{"x":0,"x2":1,"y":0,"y2":1,"k":"A"},{"x":1,"x2":2,"y":0,"y2":1,"k":"B"},{"x":2,"x2":3,"y":0,"y2":1,"k":"C"},{"x":3,"x2":4,"y":0,"y2":1,"k":"D"},{"x":4,"x2":5,"y":0,"y2":1,"k":"E"},{"x":5,"x2":6,"y":0,"y2":1,"k":"F"},{"x":6,"x2":7,"y":0,"y2":1,"k":"G"},{"x":7,"x2":8,"y":0,"y2":1,"k":"H"},{"x":8,"x2":9,"y":0,"y2":1,"k":"I"},{"x":9,"x2":10,"y":0,"y2":1,"k":"J"}],
"triL":[{"x":-1,"y":0.5,"y2":0.5},{"x":0,"y":1,"y2":0}],
"triR":[{"x":10,"y":1,"y2":0},{"x":11,"y":0.5,"y2":0.5}],
"ticks":[{"x":0,"y":-0.55,"t":"0.5"},{"x":1,"y":-0.55,"t":"1"},{"x":2,"y":-0.55,"t":"2"},{"x":3,"y":-0.55,"t":"4"},{"x":4,"y":-0.55,"t":"6"},{"x":5,"y":-0.55,"t":"8"},{"x":6,"y":-0.55,"t":"10"},{"x":7,"y":-0.55,"t":"20"},{"x":8,"y":-0.55,"t":"30"},{"x":9,"y":-0.55,"t":"40"},{"x":10,"y":-0.55,"t":"50"}],
"unit":[{"x":11.4,"y":0.0,"t":"(%)"}]
},
"spacing":14,
"vconcat":[
{"spacing":31,"vconcat":[
{"hconcat":[
{"title":"(a) OFES (18.2°E)","width":421,"height":167,
"encoding":{"x":{"field":"x","type":"quantitative","scale":{"domain":[-46,-32],"nice":false,"zero":false},"axis":{"title":null,"values":[-46,-44,-42,-40,-38,-36,-34,-32],"labelExpr":"abs(datum.value)+'S'"}},"y":{"field":"d","type":"quantitative","scale":{"domain":[0,5900],"nice":false,"reverse":true,"zero":false},"axis":{"title":"Depth  (m)","format":"d","values":[500,1000,1500,2000,2500,3000,3500,4000,4500,5000,5500],"tickSize":0}}},
"layer":[
{"data":{"name":"ca"},"transform":[{"fold":["A","B","C","D","E","F","G","H","I","J","K"],"as":["k","d"]}],"mark":{"type":"area","clip":true},"encoding":{"y2":{"datum":0},"color":{"field":"k","type":"nominal"}}},
{"data":{"name":"rects"},"transform":[{"filter":"datum.p=='a'"}],"mark":{"type":"rect","clip":true},"encoding":{"x2":{"field":"x2"},"y2":{"field":"d2"},"color":{"field":"k","type":"nominal"}}},
{"data":{"name":"land"},"transform":[{"filter":"datum.p=='a'"}],"mark":{"type":"area","interpolate":"step-after","color":"#8f8f8f","clip":true},"encoding":{"y2":{"datum":5900}}},
{"data":{"name":"circles"},"transform":[{"filter":"datum.p=='a'"}],"mark":{"type":"point","filled":true,"size":75,"stroke":"#222","strokeWidth":1.2,"opacity":1},"encoding":{"color":{"field":"k","type":"nominal"}}},
{"data":{"name":"notes"},"transform":[{"filter":"datum.p=='a'"}],"mark":{"type":"text","angle":270,"color":"white","font":"Liberation Sans","fontSize":10.5,"baseline":"middle"},"encoding":{"text":{"field":"t"}}}
]},
{"title":"(b) OFES (40.1°S)","width":421,"height":167,
"encoding":{"x":{"field":"x","type":"quantitative","scale":{"domain":[10,30],"nice":false,"zero":false},"axis":{"title":null,"values":[10,12,14,16,18,20,22,24,26,28,30],"labelExpr":"datum.value+'E'"}},"y":{"field":"d","type":"quantitative","scale":{"domain":[0,5900],"nice":false,"reverse":true,"zero":false},"axis":{"title":"Depth  (m)","format":"d","values":[500,1000,1500,2000,2500,3000,3500,4000,4500,5000,5500],"tickSize":0}}},
"layer":[
{"data":{"name":"cb"},"transform":[{"fold":["A","B","C","D","E","F","G","H","I","J","K"],"as":["k","d"]}],"mark":{"type":"area","clip":true},"encoding":{"y2":{"datum":0},"color":{"field":"k","type":"nominal"}}},
{"data":{"name":"rects"},"transform":[{"filter":"datum.p=='b'"}],"mark":{"type":"rect","clip":true},"encoding":{"x2":{"field":"x2"},"y2":{"field":"d2"},"color":{"field":"k","type":"nominal"}}},
{"data":{"name":"land"},"transform":[{"filter":"datum.p=='b'"}],"mark":{"type":"area","interpolate":"step-after","color":"#8f8f8f","clip":true},"encoding":{"y2":{"datum":5900}}},
{"data":{"name":"circles"},"transform":[{"filter":"datum.p=='b'"}],"mark":{"type":"point","filled":true,"size":75,"stroke":"#222","strokeWidth":1.2,"opacity":1},"encoding":{"color":{"field":"k","type":"nominal"}}},
{"data":{"name":"notes"},"transform":[{"filter":"datum.p=='b'"}],"mark":{"type":"text","angle":270,"color":"white","font":"Liberation Sans","fontSize":10.5,"baseline":"middle"},"encoding":{"text":{"field":"t"}}}
]}
],"spacing":102,"bounds":"flush"},
{"hconcat":[
{"title":"(c) INALT01 (18.2°E)","width":421,"height":167,
"encoding":{"x":{"field":"x","type":"quantitative","scale":{"domain":[-46,-32],"nice":false,"zero":false},"axis":{"title":null,"values":[-44,-42,-40,-38,-36,-34,-32],"labelExpr":"abs(datum.value)+'S'"}},"y":{"field":"d","type":"quantitative","scale":{"domain":[0,5900],"nice":false,"reverse":true,"zero":false},"axis":{"title":"Depth  (m)","format":"d","values":[500,1000,1500,2000,2500,3000,3500,4000,4500,5000,5500],"tickSize":0}}},
"layer":[
{"data":{"name":"cc"},"transform":[{"fold":["A","B","C","D","E","F","G","H","I","J","K"],"as":["k","d"]}],"mark":{"type":"area","clip":true},"encoding":{"y2":{"datum":0},"color":{"field":"k","type":"nominal"}}},
{"data":{"name":"rects"},"transform":[{"filter":"datum.p=='c'"}],"mark":{"type":"rect","clip":true},"encoding":{"x2":{"field":"x2"},"y2":{"field":"d2"},"color":{"field":"k","type":"nominal"}}},
{"data":{"name":"land"},"transform":[{"filter":"datum.p=='c'"}],"mark":{"type":"area","interpolate":"step-after","color":"#8f8f8f","clip":true},"encoding":{"y2":{"datum":5900}}},
{"data":{"name":"circles"},"transform":[{"filter":"datum.p=='c'"}],"mark":{"type":"point","filled":true,"size":75,"stroke":"#222","strokeWidth":1.2,"opacity":1},"encoding":{"color":{"field":"k","type":"nominal"}}}
]},
{"title":"(d) INALT01 (40.1°S)","width":421,"height":167,
"encoding":{"x":{"field":"x","type":"quantitative","scale":{"domain":[10,30],"nice":false,"zero":false},"axis":{"title":null,"values":[10,12,14,16,18,20,22,24,26,28,30],"labelExpr":"datum.value+'E'"}},"y":{"field":"d","type":"quantitative","scale":{"domain":[0,5900],"nice":false,"reverse":true,"zero":false},"axis":{"title":"Depth  (m)","format":"d","values":[500,1000,1500,2000,2500,3000,3500,4000,4500,5000,5500],"tickSize":0}}},
"layer":[
{"data":{"name":"cd"},"transform":[{"fold":["A","B","C","D","E","F","G","H","I","J","K"],"as":["k","d"]}],"mark":{"type":"area","clip":true},"encoding":{"y2":{"datum":0},"color":{"field":"k","type":"nominal"}}},
{"data":{"name":"rects"},"transform":[{"filter":"datum.p=='d'"}],"mark":{"type":"rect","clip":true},"encoding":{"x2":{"field":"x2"},"y2":{"field":"d2"},"color":{"field":"k","type":"nominal"}}},
{"data":{"name":"land"},"transform":[{"filter":"datum.p=='d'"}],"mark":{"type":"area","interpolate":"step-after","color":"#8f8f8f","clip":true},"encoding":{"y2":{"datum":5900}}},
{"data":{"name":"circles"},"transform":[{"filter":"datum.p=='d'"}],"mark":{"type":"point","filled":true,"size":75,"stroke":"#222","strokeWidth":1.2,"opacity":1},"encoding":{"color":{"field":"k","type":"nominal"}}}
]}
],"spacing":102,"bounds":"flush"}
]},
{"width":945,"height":14,"view":{"stroke":null},
"encoding":{"x":{"field":"x","type":"quantitative","scale":{"domain":[-6.553,19.196],"nice":false,"zero":false},"axis":null},"y":{"field":"y","type":"quantitative","scale":{"domain":[0,1],"nice":false,"zero":false},"axis":null}},
"layer":[
{"data":{"name":"triL"},"mark":{"type":"area","color":"white","stroke":"#666","strokeWidth":0.8},"encoding":{"y2":{"field":"y2"}}},
{"data":{"name":"triR"},"mark":{"type":"area","color":"#ff0090"},"encoding":{"y2":{"field":"y2"}}},
{"data":{"name":"bar"},"mark":{"type":"rect","stroke":"#555","strokeWidth":0.5},"encoding":{"x2":{"field":"x2"},"y2":{"field":"y2"},"color":{"field":"k","type":"nominal"}}},
{"data":{"name":"ticks"},"mark":{"type":"text","font":"Liberation Sans","fontSize":11.5,"color":"#333","baseline":"middle"},"encoding":{"text":{"field":"t"}}},
{"data":{"name":"unit"},"mark":{"type":"text","font":"DejaVu Sans Mono","fontSize":10,"color":"#333","baseline":"middle"},"encoding":{"text":{"field":"t"}}}
]}
]}
